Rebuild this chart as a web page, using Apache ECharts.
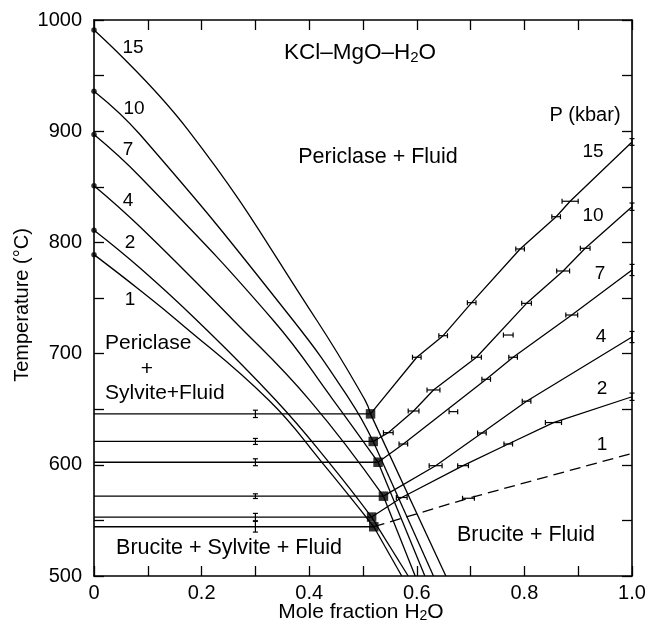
<!DOCTYPE html>
<html>
<head>
<meta charset="utf-8">
<script src="https://cdn.jsdelivr.net/npm/echarts@6/dist/echarts.min.js"></script>
<style>
html, body { margin: 0; padding: 0; background: #fff; }
#chart { width: 652px; height: 630px; }
</style>
</head>
<body>
<div id="chart"></div>
<script>
// KCl-MgO-H2O phase relations

var pressures = ['1', '2', '4', '7', '10', '15'];          // kbar
var meltT = [789, 811, 851, 897, 936, 991];                 // KCl melting, X(H2O)=0
var invX = [0.520, 0.516, 0.538, 0.528, 0.519, 0.514];      // invariant points (squares)
var invT = [544.3, 553.0, 571.8, 602.3, 621.0, 645.8];
var baseX = [0.572, 0.584, 0.597, 0.615, 0.631, 0.654];     // sylvite-out line at 500 C

// sylvite saturation above the invariant point
var liq1 = [[0.0855, 757], [0.154, 730], [0.325, 658], [0.424, 602]];
var liq2 = [[0.0855, 777], [0.191, 730], [0.338, 658], [0.437, 602]];
var liq4 = [[0.0855, 814], [0.259, 730], [0.401, 658]];
var liq7 = [[0.0855, 859], [0.333, 730], [0.445, 658]];
var liq10 = [[0.0855, 897], [0.370, 730], [0.476, 658]];
var liq15 = [[0.175, 901], [0.414, 730], [0.504, 658]];
var liquidus = [liq1, liq2, liq4, liq7, liq10, liq15];

// brucite = periclase + fluid, ends at X(H2O)=1
var bruEndT = [610.3, 661.2, 714.9, 775.2, 832.1, 890.3];
var bruEndErr = [0, 3.3, 5, 5, 3.3, 3];

// experiment brackets: x, T, half width
var obs1 = [[0.696, 569.9, 0.011]];
var obs2 = [[0.572, 570.6, 0.010], [0.686, 599.2, 0.010], [0.770, 618.7, 0.008], [0.854, 638.0, 0.015]];
var obs4 = [[0.635, 599.2, 0.012], [0.721, 628.6, 0.008], [0.804, 657.2, 0.008]];
var obs7 = [[0.575, 618.7, 0.008], [0.729, 676.9, 0.008], [0.779, 696.7, 0.008], [0.888, 734.7, 0.011]];
var obs10 = [[0.547, 628.9, 0.009], [0.594, 648.4, 0.010], [0.631, 667.3, 0.012], [0.711, 696.7, 0.009],
             [0.804, 745.2, 0.009], [0.872, 774.3, 0.012], [0.913, 794.7, 0.009]];
var obs15 = [[0.600, 696.7, 0.008], [0.649, 716.1, 0.008], [0.702, 745.8, 0.008], [0.792, 794.1, 0.008],
             [0.859, 823.1, 0.008], [0.885, 837.0, 0.015]];
var obsLoose = [[0.668, 647.8, 0.008], [0.770, 716.7, 0.009]];
var brackets = [obs1, obs2, obs4, obs7, obs10, obs15];

// isotherm brackets at X(H2O)=0.3
var isoX = 0.3;
var isoErr = [4.8, 3.3, 2.1, 3.1, 2.7, 3.3];

var FONT = '"Liberation Sans", Arial, Helvetica, sans-serif';
var INK = '#000';

var myChart = echarts.init(document.getElementById('chart'), null, {renderer: 'canvas'});

var thin = {color: INK, width: 1.3};
var series = [];

pressures.forEach(function (p, i) {
    var sq = [invX[i], invT[i]];
    series.push({
        type: 'line', symbol: 'none', smooth: 0.45,
        data: [[0, meltT[i]]].concat(liquidus[i], [sq]),
        lineStyle: thin
    });
    series.push({
        type: 'line', symbol: 'none',
        data: [sq, [baseX[i], 500]],
        lineStyle: thin
    });
    series.push({
        type: 'line', symbol: 'none',
        data: [[0, invT[i]], sq],
        lineStyle: thin
    });
    series.push({
        type: 'line', symbol: 'none',
        data: [sq].concat(brackets[i].map(function (d) { return [d[0], d[1]]; }), [[1, bruEndT[i]]]),
        lineStyle: {color: INK, width: 1.3, type: i === 0 ? [11, 6] : 'solid'}
    });
});

// melting points
series.push({
    type: 'scatter', symbol: 'circle', symbolSize: 5.5, clip: false,
    itemStyle: {color: INK},
    data: meltT.map(function (t) { return [0, t]; })
});

// invariant points
series.push({
    type: 'scatter', symbol: 'rect', symbolSize: 9.5,
    itemStyle: {color: INK},
    data: invX.map(function (x, i) { return [x, invT[i]]; })
});

function hBar(params, api) {
    var x = api.value(0), y = api.value(1), w = api.value(2);
    var l = api.coord([x - w, y]), r = api.coord([x + w, y]);
    var st = {stroke: INK, lineWidth: 1.2};
    return {
        type: 'group',
        children: [
            {type: 'line', shape: {x1: l[0], y1: l[1], x2: r[0], y2: r[1]}, style: st},
            {type: 'line', shape: {x1: l[0], y1: l[1] - 2.5, x2: l[0], y2: l[1] + 2.5}, style: st},
            {type: 'line', shape: {x1: r[0], y1: r[1] - 2.5, x2: r[0], y2: r[1] + 2.5}, style: st}
        ]
    };
}

function vBar(params, api) {
    var x = api.value(0), y = api.value(1), e = api.value(2);
    var t = api.coord([x, y + e]), b = api.coord([x, y - e]);
    var st = {stroke: INK, lineWidth: 1.2};
    return {
        type: 'group',
        children: [
            {type: 'line', shape: {x1: t[0], y1: t[1], x2: b[0], y2: b[1]}, style: st},
            {type: 'line', shape: {x1: t[0] - 2.5, y1: t[1], x2: t[0] + 2.5, y2: t[1]}, style: st},
            {type: 'line', shape: {x1: b[0] - 2.5, y1: b[1], x2: b[0] + 2.5, y2: b[1]}, style: st}
        ]
    };
}

var hData = [].concat(obs1, obs2, obs4, obs7, obs10, obs15, obsLoose);
series.push({type: 'custom', renderItem: hBar, data: hData, clip: false});

var vData = invT.map(function (t, i) { return [isoX, t, isoErr[i]]; });
bruEndT.forEach(function (t, i) {
    if (bruEndErr[i] > 0) vData.push([1, t, bruEndErr[i]]);
});
series.push({type: 'custom', renderItem: vBar, data: vData, clip: false});

function xLabel(v) {
    var k = Math.round(v * 10);
    if (k % 2) return '';
    return k === 0 ? '0' : (k / 10).toFixed(1);
}
function yLabel(v) {
    return v % 100 === 0 ? String(v) : '';
}

var axLine = {onZero: false, lineStyle: {color: INK, width: 1.6}};
var axTick = {inside: true, length: 10, lineStyle: {color: INK, width: 1.3}};

function txt(text, x, y, size, align, rot) {
    return {
        type: 'text', x: x, y: y, rotation: rot || 0, silent: true,
        style: {
            text: text, fill: INK, fontSize: size, fontFamily: FONT,
            align: align || 'center', verticalAlign: 'middle', lineHeight: size + 2,
            rich: {s: {fontSize: Math.round(size * 0.68), fontFamily: FONT, fill: INK,
                       verticalAlign: 'bottom', lineHeight: 12}}
        }
    };
}

var leftPos = [[130, 300], [130, 243], [128, 201], [128, 150], [134, 109], [133, 48]];
var rightPos = [[602, 445], [602, 389], [601, 337], [600, 274], [593, 216], [593, 152]];
var graphics = [
    txt('KCl–MgO–H{s|2}O', 360, 53, 22.5),
    txt('Periclase + Fluid', 378, 157, 21.5),
    txt('P (kbar)', 585, 115, 20),
    txt('Periclase', 105, 343, 21, 'left'),
    txt('+', 147, 369, 21),
    txt('Sylvite+Fluid', 105, 393, 21, 'left'),
    txt('Brucite + Sylvite + Fluid', 229, 548, 21.5),
    txt('Brucite + Fluid', 526, 535, 21.5),
    txt('Mole fraction H{s|2}O', 361, 612, 21),
    txt('Temperature (°C)', 22, 305, 20, 'center', Math.PI / 2)
];
pressures.forEach(function (p, i) {
    graphics.push(txt(p, leftPos[i][0], leftPos[i][1], 19));
    graphics.push(txt(p, rightPos[i][0], rightPos[i][1], 19));
});

var option = {
    backgroundColor: '#fff',
    animation: false,
    grid: {left: 94, top: 20, width: 538, height: 556},
    xAxis: [{
        type: 'value', min: 0, max: 1, interval: 0.1, position: 'bottom',
        axisLine: axLine, axisTick: axTick, splitLine: {show: false},
        axisLabel: {formatter: xLabel, margin: 7, color: INK, fontSize: 20, fontFamily: FONT}
    }, {
        type: 'value', min: 0, max: 1, interval: 0.1, position: 'top',
        axisLine: axLine, axisTick: axTick, splitLine: {show: false},
        axisLabel: {show: false}
    }],
    yAxis: [{
        type: 'value', min: 500, max: 1000, interval: 50, position: 'left',
        axisLine: axLine, axisTick: axTick, splitLine: {show: false},
        axisLabel: {formatter: yLabel, margin: 12, color: INK, fontSize: 20, fontFamily: FONT}
    }, {
        type: 'value', min: 500, max: 1000, interval: 50, position: 'right',
        axisLine: axLine, axisTick: axTick, splitLine: {show: false},
        axisLabel: {show: false}
    }],
    graphic: graphics,
    series: series
};

myChart.setOption(option);
</script>
</body>
</html>
